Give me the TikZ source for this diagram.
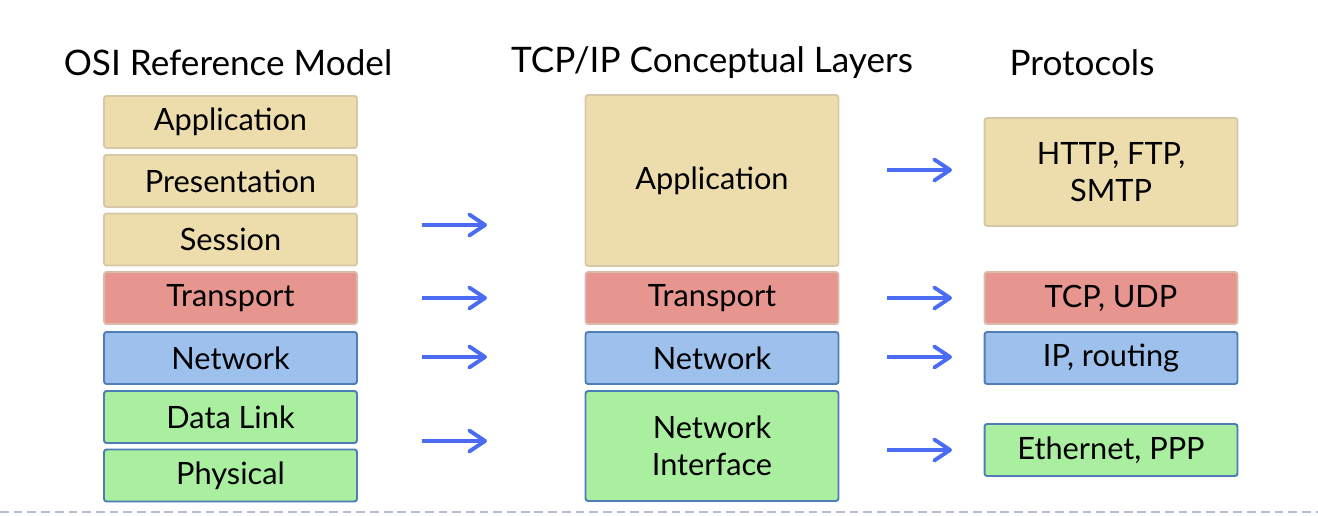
\documentclass[tikz,border=0pt]{standalone}
\usepackage{fontspec}
\setmainfont{Lato}
\usetikzlibrary{arrows.meta}

\definecolor{appfill}{HTML}{EDDDAC}
\definecolor{appline}{HTML}{D6C7A6}
\definecolor{trnfill}{HTML}{E6968F}
\definecolor{trnline}{HTML}{D9BBA8}
\definecolor{netfill}{HTML}{9DC1EC}
\definecolor{netline}{HTML}{4E7DB8}
\definecolor{lnkfill}{HTML}{A9EF9F}
\definecolor{lnkline}{HTML}{4D7CB6}
\definecolor{arrblue}{HTML}{4A6BF2}
\definecolor{dashgray}{HTML}{B3BFD1}

\tikzset{
    layer/.style={rectangle, rounded corners=1.5pt, line width=1.1pt, inner sep=0pt,
        minimum width=5.06cm, minimum height=1.04cm, align=center,
        font=\fontsize{17.5}{21}\selectfont},
    lapp/.style={layer, fill=appfill, draw=appline},
    ltrn/.style={layer, fill=trnfill, draw=trnline},
    lnet/.style={layer, fill=netfill, draw=netline},
    llnk/.style={layer, fill=lnkfill, draw=lnkline},
}

\begin{document}
\begin{tikzpicture}[x=0.02cm, y=-0.02cm]
    \useasboundingbox (0,0) rectangle (1318,516);

    % headings
    \begin{scope}[every node/.style={font=\fontsize{20}{24}\selectfont}]
        \node (H_osi) at (228,63) {OSI Reference Model};
        \node (H_tcp) at (712,63) {TCP/IP Conceptual Layers};
        \node (H_pro) at (1082,63) {Protocols};
    \end{scope}

    % OSI column
    \node[lapp] (O_1) at (230.5,122) {Application};
    \node[lapp] (O_2) at (230.5,181) {Presentation};
    \node[lapp] (O_3) at (230.5,239.5) {Session};
    \node[ltrn] (O_4) at (230.5,298) {Transport};
    \node[lnet] (O_5) at (230.5,358) {Network};
    \node[llnk] (O_6) at (230.5,417) {Data Link};
    \node[llnk] (O_7) at (230.5,475.5) {Physical};

    % TCP/IP column
    \node[lapp, minimum height=3.42cm] (T_1) at (712,180.5) {Application};
    \node[ltrn] (T_2) at (712,298) {Transport};
    \node[lnet] (T_3) at (712,358) {Network};
    \node[llnk, minimum height=2.2cm] (T_4) at (712,446) {Network\\Interface};

    % protocols column
    \node[lapp, minimum height=2.16cm] (P_1) at (1111,172) {HTTP, FTP,\\SMTP};
    \node[ltrn] (P_2) at (1111,298) {TCP, UDP};
    \node[lnet] (P_3) at (1111,358) {IP, routing};
    \node[llnk] (P_4) at (1111,450) {Ethernet, PPP};

    % arrow ends
    \coordinate (A_1) at (422,225);  \coordinate (B_1) at (487,225);
    \coordinate (A_2) at (422,298);  \coordinate (B_2) at (487,298);
    \coordinate (A_3) at (422,357);  \coordinate (B_3) at (487,357);
    \coordinate (A_4) at (422,441);  \coordinate (B_4) at (487,441);
    \coordinate (C_1) at (887,170);  \coordinate (D_1) at (952,170);
    \coordinate (C_2) at (887,298);  \coordinate (D_2) at (952,298);
    \coordinate (C_3) at (887,357);  \coordinate (D_3) at (952,357);
    \coordinate (C_4) at (887,450);  \coordinate (D_4) at (952,450);

    \begin{scope}[every edge/.style={draw=arrblue, line width=2.2pt,
            -{Straight Barb[length=9pt, width=12pt, line cap=round, line join=round]}}]
        \path (A_1) edge (B_1);
        \path (A_2) edge (B_2);
        \path (A_3) edge (B_3);
        \path (A_4) edge (B_4);
        \path (C_1) edge (D_1);
        \path (C_2) edge (D_2);
        \path (C_3) edge (D_3);
        \path (C_4) edge (D_4);
    \end{scope}

    % footer rule
    \coordinate (R_l) at (0,512);
    \coordinate (R_r) at (1318,512);
    \draw[dashgray, line width=1.1pt, dash pattern=on 5pt off 2.8pt] (R_l) -- (R_r);
\end{tikzpicture}
\end{document}
